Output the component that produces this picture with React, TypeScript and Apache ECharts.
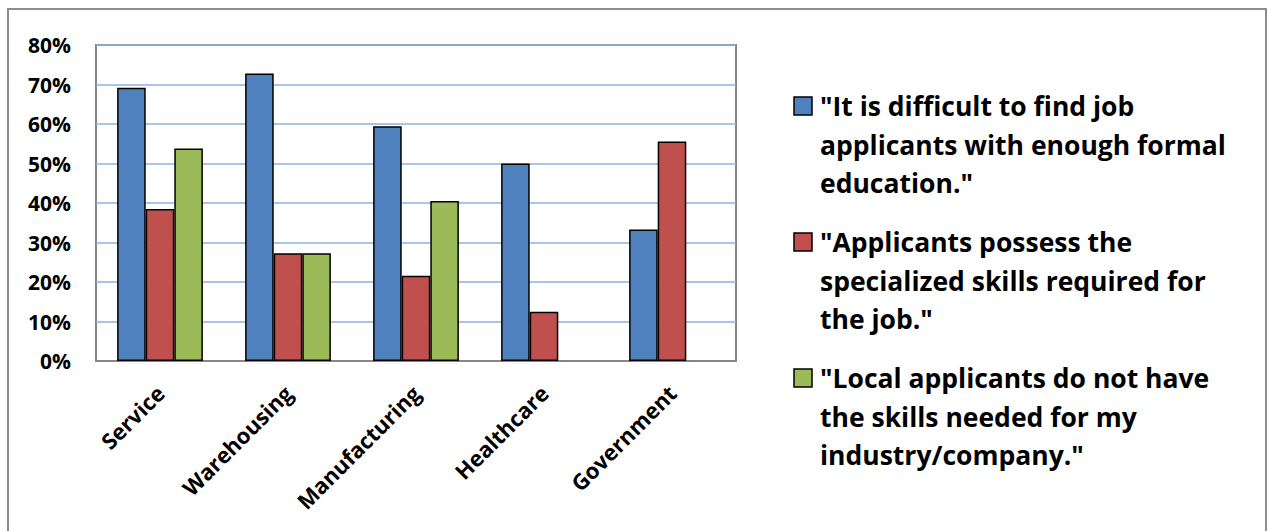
import React, { useEffect, useRef } from "react";
import * as echarts from "echarts";

const categories = ["Service", "Warehousing", "Manufacturing", "Healthcare", "Government"];
const seriesNames = [
  '"It is difficult to find job applicants with enough formal education."',
  '"Applicants possess the specialized skills required for the job."',
  '"Local applicants do not have the skills needed for my industry/company."',
];
const legendLines = [
  ['"It is difficult to find job', "applicants with enough formal", 'education."'],
  ['"Applicants possess the', "specialized skills required for", 'the job."'],
  ['"Local applicants do not have', "the skills needed for my", 'industry/company."'],
];
const formalEducation = [69.2, 72.8, 59.4, 50.0, 33.3];
const specializedSkills = [38.5, 27.3, 21.6, 12.5, 55.6];
const localSkills = [53.8, 27.3, 40.5, null, null];
const yTicks = [0, 10, 20, 30, 40, 50, 60, 70, 80];

const colors = ["#4F81BD", "#C0504D", "#9BBB59"];
const FONT = "Open Sans";

export default function App() {
  const ref = useRef<HTMLDivElement>(null);
  useEffect(() => {
    const chart = echarts.init(ref.current!, null, { renderer: "svg" });
    const values = [formalEducation, specializedSkills, localSkills];
    const legendGraphics: any[] = [];
    const startY = [106, 242, 378];
    legendLines.forEach((lines, i) => {
      legendGraphics.push({
        type: "rect",
        shape: { x: 794, y: startY[i] - 9, width: 18, height: 18 },
        style: { fill: colors[i], stroke: "#000", lineWidth: 1.5 },
      });
      legendGraphics.push({
        type: "text",
        x: 820,
        y: startY[i] - 19.25,
        style: {
          text: lines.join("\n"),
          fontFamily: FONT,
          fontWeight: "bold",
          fontSize: 26.5,
          lineHeight: 38.5,
          fill: "#000",
          verticalAlign: "top",
          align: "left",
        },
      });
    });
    chart.setOption({
      animation: false,
      color: colors,
      grid: {
        left: 96,
        right: 531,
        top: 45,
        bottom: 170,
        show: true,
        borderColor: "#868686",
        borderWidth: 2,
        backgroundColor: "#fff",
      },
      xAxis: {
        type: "category",
        data: categories,
        axisLine: { show: true, lineStyle: { color: "#868686", width: 2 } },
        axisTick: { show: false },
        axisLabel: {
          rotate: 45,
          margin: 28,
          fontFamily: FONT,
          fontWeight: "bold",
          fontSize: 22,
          color: "#000",
        },
      },
      yAxis: {
        type: "value",
        min: 0,
        max: 80,
        interval: 10,
        axisLine: { show: false },
        axisTick: { show: false },
        axisLabel: {
          formatter: (v: number) => (yTicks.includes(v) ? v + "%" : ""),
          margin: 25,
          fontFamily: FONT,
          fontWeight: "bold",
          fontSize: 21,
          color: "#000",
        },
        splitLine: { show: true, lineStyle: { color: "#8DB3E2", width: 1.5 } },
      },
      series: values.map((d, i) => ({
        type: "bar",
        name: seriesNames[i],
        data: d,
        barGap: "0%",
        barCategoryGap: "33%",
        itemStyle: { color: colors[i], borderColor: "#000", borderWidth: 1.5 },
      })),
      graphic: [
        {
          type: "rect",
          shape: { x: 8, y: 9, width: 1258, height: 540 },
          style: { fill: "none", stroke: "#8c8c8c", lineWidth: 2 },
          silent: true,
          z: -10,
        },
        ...legendGraphics,
      ],
    });
    return () => chart.dispose();
  }, []);
  return (
    <div
      ref={ref}
      style={{ position: "absolute", left: 0, top: 0, width: 1267, height: 531, background: "#fff" }}
    />
  );
}
